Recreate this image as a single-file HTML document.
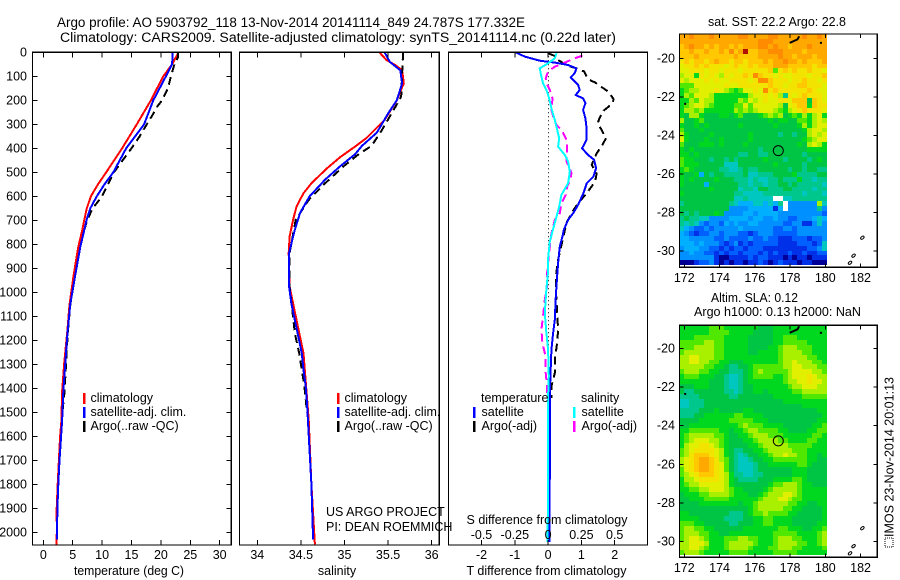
<!DOCTYPE html>
<html lang="en">
<head>
<meta charset="utf-8">
<title>Argo profile 5903792_118</title>
<style>
html,body{margin:0;padding:0;background:#fff;}
svg{display:block;}
text{font-family:"Liberation Sans",sans-serif;font-size:12.5px;fill:#000;}
.title{font-size:13.5px;}
</style>
</head>
<body>
<svg id="chart" xmlns="http://www.w3.org/2000/svg" width="900" height="580" viewBox="0 0 900 580">
  <rect x="0" y="0" width="900" height="580" fill="#fff"/>
  <text class="title" x="57" y="27" textLength="468" lengthAdjust="spacingAndGlyphs">Argo profile: AO 5903792_118 13-Nov-2014 20141114_849 24.787S 177.332E</text>
  <text class="title" x="60" y="42" textLength="556" lengthAdjust="spacingAndGlyphs">Climatology: CARS2009. Satellite-adjusted climatology: synTS_20141114.nc (0.22d later)</text>

  <g id="panelT"></g>
  <g id="panelS"></g>
  <g id="panelD"></g>
  <g id="mapSST"></g>
  <g id="mapSLA"></g>

  <text x="129" y="575" text-anchor="middle" textLength="110" lengthAdjust="spacingAndGlyphs">temperature (deg C)</text>
  <text x="337" y="575" text-anchor="middle">salinity</text>
  <text x="546.5" y="575" text-anchor="middle">T difference from climatology</text>
  <text x="547" y="524" text-anchor="middle">S difference from climatology</text>

  <g>
    <rect x="83" y="393" width="2.5" height="11" fill="#f00"/>
    <text x="90.5" y="402">climatology</text>
    <rect x="83" y="407" width="2.5" height="11" fill="#00f"/>
    <text x="90.5" y="416">satellite-adj. clim.</text>
    <rect x="83" y="421" width="2.5" height="11" fill="#000"/>
    <text x="90.5" y="430">Argo(..raw -QC)</text>
  </g>
  <g>
    <rect x="337" y="393" width="2.5" height="11" fill="#f00"/>
    <text x="344.5" y="402">climatology</text>
    <rect x="337" y="407" width="2.5" height="11" fill="#00f"/>
    <text x="344.5" y="416">satellite-adj. clim.</text>
    <rect x="337" y="421" width="2.5" height="11" fill="#000"/>
    <text x="344.5" y="430">Argo(..raw -QC)</text>
  </g>
  <g>
    <text x="481" y="402">temperature</text>
    <text x="581" y="402">salinity</text>
    <rect x="473" y="407" width="2.5" height="11" fill="#00f"/>
    <text x="481.5" y="416">satellite</text>
    <rect x="473" y="421" width="2.5" height="11" fill="#000"/>
    <text x="481.5" y="430">Argo(-adj)</text>
    <rect x="573" y="407" width="2.5" height="11" fill="#0ff"/>
    <text x="581.5" y="416">satellite</text>
    <rect x="573" y="421" width="2.5" height="11" fill="#f0f"/>
    <text x="581.5" y="430">Argo(-adj)</text>
  </g>

  <text x="326" y="516">US ARGO PROJECT</text>
  <text x="326" y="531">PI: DEAN ROEMMICH</text>

  <text x="708" y="26" textLength="138" lengthAdjust="spacingAndGlyphs">sat. SST: 22.2 Argo: 22.8</text>
  <text x="711" y="302" textLength="87" lengthAdjust="spacingAndGlyphs">Altim. SLA: 0.12</text>
  <text x="694" y="316" textLength="167" lengthAdjust="spacingAndGlyphs">Argo h1000: 0.13 h2000: NaN</text>

  <rect x="885" y="538" width="8" height="9" fill="none" stroke="#000" stroke-width="1" stroke-dasharray="1 1"/>
  <text transform="translate(893.5 537) rotate(-90)" textLength="160" lengthAdjust="spacingAndGlyphs">IMOS 23-Nov-2014 20:01:13</text>
</svg>

<script>
/* ---------- profile depth grids (dbar) and values ---------- */
const climTDepth = [0,50,100,200,300,400,500,550,600,650,700,740,811,932,1052,1173,1294,1415,1535,1600,1700,1800,1900,2000,2050];
const climT = [23.0,21.9,20.4,18.3,15.9,13.4,10.7,9.3,8.1,7.4,6.95,6.63,5.95,5.13,4.45,4.04,3.55,3.2,3.07,2.85,2.65,2.45,2.28,2.3,2.25];
const satTDepth = [0,50,100,200,300,400,500,550,600,650,700,740,811,932,1052,1173,1294,1415,1535,1644,1700,1800,1900,2000,2030];
const satT = [22.0,21.9,20.85,18.7,17.15,14.1,11.9,10.4,9.1,8.0,7.35,6.97,6.29,5.4,4.58,4.1,3.75,3.4,3.2,2.9,2.75,2.55,2.4,2.33,2.33];
const argoTDepth = [0,20,50,100,150,200,225,260,300,350,400,450,500,550,600,650,700,740,811,932,1052,1173,1294,1415,1500];
const argoT = [22.9,22.9,22.3,21.7,21.2,20.2,19.4,18.6,17.6,16.4,15.0,13.5,12.0,11.0,10.0,8.4,7.45,6.97,6.3,5.4,4.6,4.15,3.88,3.6,3.25];

const climSDepth = [0,32,53,74,129,200,282,358,393,437,483,546,587,643,698,768,837,976,1115,1254,1392,1531,1800,2050];
const climS = [35.40,35.48,35.58,35.66,35.68,35.60,35.46,35.25,35.12,34.95,34.80,34.62,34.53,34.45,34.41,34.37,34.36,34.37,34.45,34.53,34.56,34.59,34.62,34.66];
const satSDepth = [0,40,75,130,200,255,335,390,425,475,530,600,670,740,837,976,1045,1115,1184,1254,1323,1392,1462,1531,1800,2030];
const satS = [35.46,35.52,35.64,35.66,35.60,35.50,35.37,35.20,35.12,34.95,34.78,34.60,34.49,34.43,34.363,34.365,34.39,34.43,34.47,34.51,34.53,34.555,34.57,34.58,34.62,34.64];
const argoSDepth = [0,18,90,185,255,335,390,425,475,545,615,698,837,976,1070,1170,1254,1323,1392,1500];
const argoS = [35.67,35.67,35.66,35.65,35.54,35.41,35.31,35.16,34.99,34.78,34.59,34.44,34.37,34.37,34.40,34.43,34.48,34.51,34.54,34.57];

const diffDepthTSat = [0,18,35,43,53,67,87,104,136,157,178,192,212,240,275,310,365,400,428,448,483,518,546,587,636,671,698,740,768,809,865,934,1018,1115,1170,1240,1351,1434,1754,1990,2040];
const diffTSat = [-0.97,-0.70,-0.25,0.20,0.60,0.85,0.80,0.68,0.90,0.95,0.83,1.05,1.12,1.05,1.12,1.15,1.15,1.02,1.20,1.38,1.44,1.36,1.16,1.06,0.90,0.75,0.60,0.47,0.43,0.35,0.31,0.27,0.23,0.20,0.15,0.10,0.07,0.05,0.05,0.04,0.04];
const diffDepthTArgo = [4,18,32,57,67,80,112,126,150,164,196,215,243,275,296,324,358,386,421,469,504,539,587,629,671,698,712,865,934,983,1156,1212,1281,1337,1392,1440];
const diffTArgo = [0,0.25,0.30,0.60,0.87,1.08,1.20,1.41,1.66,1.81,1.97,1.92,1.67,1.54,1.49,1.61,1.74,1.63,1.46,1.31,1.46,1.41,1.16,0.90,0.70,0.60,0.55,0.30,0.23,0.23,0.30,0.27,0.20,0.20,0.10,0.10];
const diffDepthSSat = [4,25,46,67,101,129,157,192,233,282,323,358,393,428,455,497,546,594,643,685,735,789,859,914,985,1087,1170,1240,1350,1434,1643,1990,2040];
const diffSSat = [0.063,0.05,0,-0.063,-0.05,-0.038,-0.013,0.008,0.025,0.05,0.068,0.083,0.075,0.125,0.15,0.163,0.15,0.10,0.083,0.063,0.038,0.013,0,0,-0.013,-0.025,-0.013,0,0.005,0,0,-0.003,-0.003];
const diffDepthSArgo = [14,25,43,60,80,108,129,157,192,240,268,303,323,358,392,420,455,483,504,532,560,594,629,671,698,754,837,920,976,1031,1101,1156,1212,1268,1337,1392,1440];
const diffSArgo = [0.258,0.20,0.125,0.05,0,-0.018,-0.013,0.013,0.033,0.025,0.038,0.063,0.10,0.133,0.143,0.143,0.138,0.163,0.175,0.168,0.143,0.133,0.10,0.088,0.05,0.025,0.0075,-0.0075,-0.0075,-0.025,-0.038,-0.05,-0.043,-0.018,-0.018,-0.0075,-0.0075];

/* ---------- tick labels ---------- */
const depthTicks = [0,100,200,300,400,500,600,700,800,900,1000,1100,1200,1300,1400,1500,1600,1700,1800,1900,2000];
const tempTicks = [0,5,10,15,20,25,30];
const salTicks = [34,34.5,35,35.5,36];
const tDiffTicks = [-2,-1,0,1,2];
const sDiffTicks = [-0.5,-0.25,0,0.25,0.5];
const lonTicks = [172,174,176,178,180,182];
const latTicksSST = [-20,-22,-24,-26,-28,-30];
const latTicksSLA = [-20,-22,-24,-26,-28,-30];

/* ---------- float position and coast fragments ---------- */
const floatLon = 177.332;
const floatLat = -24.787;
const coastNorthLon = [177.98,178.2,178.42,178.52];
const coastNorthLat = [-19.2,-19.11,-19.02,-18.86];
const coastDotLon = [179.75,172.05];
const coastDotLat = [-19.2,-22.36];
const coastIslandLon = [182.1,181.6,181.4];
const coastIslandLat = [-29.3,-30.23,-30.6];

/* ---------- SST map colour-level grid (null = no data) ---------- */
const sstLevels = [
[14,14,15,14,14,14,15,14,14,14,14,14,15,15,14,14,14,14,15,15,14,14,14,14,14,15,14,14,15,14],
[14,14,14,14,14,14,14,14,14,14,14,14,14,14,14,14,15,15,15,14,14,14,14,14,14,14,14,14,14,14],
[13,14,15,14,14,13,14,13,14,14,13,14,13,14,14,14,15,15,14,15,14,14,13,14,14,14,15,14,14,14],
[13,13,14,13,13,14,13,13,14,13,15,13,14,16,13,13,14,14,15,15,15,14,14,14,14,13,14,14,14,14],
[13,13,13,14,13,13,13,13,13,13,13,14,13,13,13,13,14,14,14,14,15,14,14,13,14,14,14,13,14,14],
[12,13,12,13,13,12,13,14,13,13,12,13,13,12,13,13,13,14,13,14,14,15,14,14,13,14,13,13,13,14],
[11,12,12,13,12,13,12,12,12,11,12,13,12,12,13,12,13,13,13,14,14,14,13,13,13,13,13,12,13,13],
[11,11,12,12,12,11,12,12,11,12,12,12,11,12,12,12,12,12,13,9,12,13,12,13,12,12,13,12,12,11],
[10,11,11,8,12,11,12,11,10,12,11,12,12,13,12,15,13,12,12,11,12,11,11,12,12,12,11,12,12,13],
[11,10,11,11,11,12,11,12,11,11,12,12,12,12,11,12,15,15,13,12,12,12,11,12,12,13,12,12,11,12],
[9,9,9,11,11,11,11,11,11,12,11,11,12,12,12,12,12,12,13,12,12,11,12,12,13,13,12,12,12,11],
[8,9,10,10,11,11,11,12,11,10,9,8,9,11,11,12,11,15,12,13,12,12,12,12,12,12,13,12,11,11],
[8,10,9,11,11,11,10,8,8,8,8,8,8,8,10,11,11,12,11,12,10,6,12,11,12,13,12,12,12,11],
[8,8,10,9,11,10,10,8,8,8,8,8,10,9,11,10,11,12,11,11,12,12,11,13,13,13,7,13,12,11],
[8,9,10,11,11,10,9,8,8,8,8,9,9,11,9,11,11,11,11,11,10,7,11,12,13,13,8,13,12,12],
[8,10,10,9,10,8,8,8,8,8,8,10,9,10,9,10,11,11,11,10,9,8,10,11,12,13,12,12,12,11],
[8,7,10,10,8,7,7,7,8,8,7,8,9,7,7,7,8,9,10,9,10,7,8,9,8,10,8,10,11,8],
[10,7,7,8,9,7,7,7,7,7,7,7,7,7,7,7,7,7,8,7,8,8,7,7,9,9,8,10,11,10],
[8,7,7,8,7,8,7,7,7,7,7,7,8,7,7,7,7,7,7,8,7,7,7,7,8,10,8,10,11,11],
[9,7,7,7,8,7,7,7,7,7,7,7,7,7,7,7,7,7,7,7,7,7,7,7,7,8,10,11,11,10],
[10,8,7,7,7,7,8,7,7,7,7,7,7,7,8,7,7,7,7,7,6,7,7,6,7,7,10,11,10,11],
[11,8,7,7,7,8,7,7,8,7,7,7,7,7,8,7,7,7,7,7,7,7,7,7,7,8,9,10,11,11],
[9,7,7,7,8,8,8,7,8,7,7,7,7,8,7,7,7,7,7,7,7,7,7,7,8,7,10,11,10,8],
[8,7,8,7,7,7,7,7,7,7,7,7,7,7,7,7,6,7,7,7,7,7,7,7,7,7,8,8,8,8],
[8,8,7,8,7,7,7,7,7,7,7,7,6,6,7,7,6,6,7,7,7,7,7,7,7,6,7,7,7,7],
[9,8,8,7,7,7,6,7,7,6,7,6,7,7,7,7,7,8,7,7,7,6,7,7,7,7,6,7,8,7],
[9,8,8,8,7,7,7,7,7,5,5,5,7,7,7,7,7,7,7,8,7,7,7,7,7,6,7,7,7,7],
[8,9,8,7,7,7,7,7,6,6,5,5,6,7,6,6,7,7,7,7,7,7,6,7,7,6,7,7,6,6],
[8,7,7,8,4,7,6,7,7,6,6,6,6,7,5,5,6,6,6,7,7,7,7,8,6,6,6,6,7,7],
[8,7,8,7,7,7,7,8,7,7,7,6,6,6,5,6,5,5,6,6,7,6,6,6,8,6,6,5,6,6],
[8,7,7,7,7,4,7,7,7,7,7,7,6,6,5,6,6,5,6,6,7,7,6,7,6,6,6,6,6,5],
[7,7,7,7,7,7,8,7,7,7,7,7,5,6,6,5,7,7,6,6,6,7,7,6,6,6,6,5,6,6],
[8,7,7,7,7,7,7,7,7,7,7,6,6,5,5,5,5,6,6,6,6,6,6,6,6,5,6,6,6,5],
[7,7,7,7,7,7,7,7,7,7,7,5,5,6,5,5,5,5,5,null,null,5,5,6,6,6,6,6,6,6],
[6,7,7,7,7,7,7,7,7,7,6,5,4,4,4,5,5,4,5,4,6,null,3,3,3,3,3,3,10,5],
[7,7,7,7,7,7,7,7,7,7,3,3,3,3,4,4,4,4,4,1,4,null,3,3,3,3,3,3,6,3],
[7,6,7,6,7,7,7,8,7,3,3,3,3,4,4,3,4,4,4,4,3,3,3,3,3,3,3,3,3,2],
[6,7,6,6,5,5,3,3,3,3,4,4,4,4,3,4,4,3,3,4,3,3,2,2,3,3,3,4,5,4],
[6,5,6,5,3,2,3,3,2,4,3,4,3,3,4,4,3,3,3,3,3,2,2,3,3,1,1,3,5,3],
[5,4,3,2,2,3,2,3,3,3,3,3,4,3,3,3,3,3,3,2,2,3,3,2,3,3,3,3,3,3],
[4,3,2,1,2,2,3,3,2,3,3,3,2,2,1,2,3,3,3,2,2,2,2,2,3,3,3,3,3,3],
[4,4,3,3,3,3,3,2,2,3,2,2,2,2,3,2,2,3,2,2,1,1,1,2,2,2,1,2,2,3],
[4,4,4,3,4,3,3,3,2,1,2,3,1,2,1,2,2,2,2,2,1,1,1,1,2,2,2,1,2,5],
[3,4,4,4,3,3,2,2,1,2,1,2,2,1,2,2,2,1,1,1,1,1,1,1,1,1,2,2,3,5],
[3,3,4,3,3,2,2,1,2,1,2,2,1,2,2,2,1,2,1,2,1,1,2,1,1,2,1,1,2,2],
[3,3,3,3,3,3,3,1,0,0,1,1,1,1,2,1,2,2,1,1,1,0,1,0,1,1,0,1,1,1],
[0,0,0,1,2,2,3,1,0,1,0,1,1,0,1,1,2,1,0,1,2,1,1,1,0,1,1,0,0,0]
];

/* ---------- SLA map colour-level grid ---------- */
const slaLevels = [
[8,8,8,8,8,8,9,9,9,8,8,8,8,8,8,8,7,7,7,8,8,8,8,8,8,8,8,8,8,8],
[8,8,8,8,8,8,9,9,9,9,8,8,8,8,8,7,7,7,7,8,8,8,8,8,8,8,8,8,8,8],
[8,8,8,9,9,9,9,9,9,8,8,8,8,8,7,7,7,7,7,8,8,9,9,9,8,8,8,8,8,8],
[9,9,9,9,9,10,10,9,9,8,8,8,8,8,7,7,7,7,7,8,8,9,9,9,9,9,8,8,8,8],
[9,9,9,10,10,10,10,9,9,8,8,8,8,8,7,7,7,7,8,8,9,10,10,10,9,9,9,8,8,8],
[9,10,10,10,10,10,10,9,9,8,8,8,8,8,7,7,8,8,8,8,9,10,10,10,10,9,9,8,8,8],
[10,10,11,11,10,10,10,9,9,8,8,8,8,8,8,8,8,8,8,8,9,10,10,10,10,10,9,9,8,8],
[10,10,11,11,10,10,9,9,8,8,7,7,7,8,8,8,8,8,8,8,9,10,10,11,10,10,10,9,9,8],
[10,10,10,10,10,9,9,8,8,7,6,6,7,7,8,9,9,9,9,9,9,10,10,11,11,10,10,10,9,9],
[9,10,10,10,9,9,8,8,7,7,6,6,6,7,8,9,10,9,9,9,9,9,10,11,11,11,11,10,10,9],
[8,9,9,9,8,8,8,7,7,6,5,5,6,7,8,9,9,9,9,8,8,9,10,11,11,11,12,11,10,10],
[8,8,8,8,8,8,7,7,7,6,5,5,6,7,8,8,8,8,8,8,8,9,10,10,11,11,12,11,11,10],
[7,7,7,8,8,8,7,7,7,6,5,5,6,7,7,8,8,8,8,8,8,8,9,10,10,11,11,11,10,10],
[7,6,6,7,7,7,7,7,7,6,6,5,6,7,7,8,8,7,8,8,8,8,8,9,9,10,10,10,10,10],
[6,6,6,6,7,7,7,7,7,7,6,6,7,7,7,7,7,7,7,8,8,8,8,8,8,9,9,9,9,9],
[5,5,6,6,6,7,7,7,7,7,7,7,7,7,7,7,7,7,7,7,7,8,8,8,8,8,8,8,8,8],
[5,5,6,6,6,7,7,7,7,7,7,7,7,7,7,7,7,7,7,7,7,7,7,7,7,8,8,8,8,8],
[6,6,6,6,7,7,7,8,7,7,7,7,7,8,8,7,7,7,7,7,7,7,7,7,7,7,7,7,8,8],
[6,6,6,7,7,8,8,8,8,8,8,9,9,8,8,8,8,7,7,7,7,7,7,7,7,7,7,7,7,8],
[7,7,7,7,8,8,8,8,8,8,9,9,9,9,9,8,8,8,7,7,7,7,7,7,7,7,7,7,8,8],
[7,7,8,8,8,8,8,8,8,8,8,8,9,10,9,9,9,8,8,8,8,7,7,7,7,7,7,8,8,9],
[8,8,9,9,9,9,9,9,8,8,7,8,8,9,10,10,9,9,9,9,8,8,7,7,7,7,8,8,9,9],
[8,9,10,10,10,10,10,9,9,8,7,7,8,8,9,10,10,10,9,9,9,8,8,8,8,8,8,9,9,8],
[8,9,10,11,11,11,10,10,9,8,7,7,7,8,8,9,10,10,10,10,9,9,8,8,8,8,9,9,8,8],
[8,10,11,11,12,12,11,10,9,8,7,7,7,7,8,8,9,10,10,10,10,10,9,9,9,9,9,8,8,8],
[9,10,11,12,12,12,12,11,10,8,7,6,6,7,7,8,8,9,10,10,10,10,10,9,9,9,8,8,8,8],
[9,10,12,13,13,13,12,11,10,8,7,6,5,6,7,7,8,8,9,10,10,11,10,10,9,9,8,8,7,8],
[10,11,12,13,14,14,13,12,10,9,7,6,5,5,6,7,7,8,8,9,9,9,9,9,9,9,8,8,7,7],
[10,11,12,13,14,14,13,12,11,9,7,6,5,5,5,6,7,7,8,8,8,8,8,8,9,9,8,7,7,7],
[9,11,12,13,14,14,13,12,11,9,7,6,5,5,5,6,7,7,7,7,7,7,7,8,8,8,7,7,7,7],
[9,10,11,12,13,13,13,12,11,10,8,6,6,5,5,6,6,7,7,7,7,7,7,8,8,8,7,7,7,7],
[8,10,10,11,12,12,12,12,11,10,8,7,6,6,6,6,7,7,7,8,8,8,8,9,9,8,7,7,7,7],
[8,9,10,10,11,11,11,11,11,10,8,7,7,7,7,7,7,7,8,9,9,10,10,10,9,8,8,7,7,7],
[8,8,9,9,10,10,11,11,11,10,9,8,8,7,7,7,7,8,9,10,10,10,10,10,9,8,8,8,8,8],
[7,8,8,8,9,9,10,10,10,10,9,8,8,8,7,7,8,9,10,10,10,11,11,10,9,8,8,8,8,8],
[7,7,8,8,8,9,9,9,9,9,8,8,8,8,8,8,9,10,10,10,11,11,10,9,9,8,8,8,8,8],
[7,7,7,7,8,8,8,8,8,8,8,8,7,8,8,9,10,10,10,10,10,10,9,9,8,8,7,7,8,8],
[7,7,7,7,7,7,7,7,7,7,7,7,7,7,8,9,10,10,10,10,10,9,9,8,8,7,7,7,7,8],
[8,8,7,7,7,7,7,7,7,7,6,6,6,7,8,9,9,10,9,9,9,9,8,8,7,7,7,7,7,8],
[8,8,8,8,7,7,7,7,7,6,6,6,6,7,7,8,8,9,9,8,8,8,8,7,7,7,7,7,7,8],
[9,9,9,8,8,7,7,7,7,7,6,6,7,7,7,8,8,9,9,8,8,8,8,7,7,7,7,7,8,8],
[9,10,10,9,9,8,8,7,7,7,7,7,7,8,8,8,8,8,8,8,9,9,8,8,8,7,7,8,8,9],
[9,10,10,10,9,9,8,8,7,7,8,8,8,8,8,8,8,8,8,9,9,9,9,9,8,8,8,8,9,10],
[9,10,11,11,10,9,8,8,8,9,9,9,10,10,9,9,8,8,8,9,10,10,10,9,9,8,8,8,9,10],
[10,10,11,11,11,10,8,8,8,9,10,10,10,10,10,9,8,8,8,9,10,10,10,10,9,9,8,8,9,10],
[10,10,11,11,10,9,8,8,8,9,10,10,10,10,9,8,8,8,9,9,10,10,10,9,9,8,8,8,8,9],
[9,10,10,10,9,8,8,8,8,8,9,9,9,9,8,8,8,8,8,9,9,9,9,9,8,8,8,8,8,8]
];

const levelColors = ['#000098','#0030e8','#0060ff','#0090ff','#00b0ff','#00c8c0','#00c88c','#00c444','#00d820','#50e800','#a8f000','#e0f000','#f2e400','#ffc800','#ffa800','#ff8c00','#b01000'];

/* ---------- helpers ---------- */
const NS = 'http://www.w3.org/2000/svg';
function mk(tag, attrs, parent) {
  const e = document.createElementNS(NS, tag);
  for (const k in attrs) e.setAttribute(k, attrs[k]);
  parent.appendChild(e);
  return e;
}
function linear(d0, r0, d1, r1) {
  return v => r0 + (v - d0) * (r1 - r0) / (d1 - d0);
}
const depthY = linear(0, 52.3, 2000, 532.3);

function frame(parent, x, y, w, h) {
  const el = mk('rect', {x:x, y:y, width:w, height:h, fill:'none', stroke:'#000', 'stroke-width':1.4, 'shape-rendering':'crispEdges'}, parent);
  
  
}
function tick(parent, x1, y1, x2, y2) {
  const el = mk('line', {x1:x1, y1:y1, x2:x2, y2:y2, stroke:'#000', 'stroke-width':1, 'shape-rendering':'crispEdges'}, parent);
  
  
}
function label(parent, x, y, str, anchor) {
  const el = mk('text', {x:x, y:y, 'text-anchor':anchor}, parent);
  el.textContent = str;
  
  
}
function profile(parent, depths, values, xs, color, dash, name, width) {
  const pts = depths.map((d, i) => xs(values[i]).toFixed(1) + ',' + depthY(d).toFixed(1)).join(' ');
  const attrs = {points:pts, fill:'none', stroke:color, 'stroke-width':width || 2, 'stroke-linejoin':'round', 'shape-rendering':'crispEdges'};
  if (dash) attrs['stroke-dasharray'] = dash;
  const el = mk('polyline', attrs, parent);
  
  
}

/* ---------- profile panels ---------- */
const LEFT_T = 32.5, RIGHT_T = 231.3, LEFT_S = 239.5, RIGHT_S = 439.3, LEFT_D = 448.5, RIGHT_D = 647.5;
const TOP = 52.3, BOTTOM = 545;
const tempX = linear(0, 43.3, 30, 219.7);
const salX = linear(34, 257.3, 36, 431.7);
const tDiffX = linear(-2, 481.5, 2, 614.7);
const sDiffX = linear(-0.5, 481.5, 0.5, 614.7);

const pT = document.getElementById('panelT');
const pS = document.getElementById('panelS');
const pD = document.getElementById('panelD');

profile(pT, climTDepth, climT, tempX, '#f00', null, 'temperature-climatology-line');
profile(pT, argoTDepth, argoT, tempX, '#000', '8 5', 'temperature-argo-line');
profile(pT, satTDepth, satT, tempX, '#00f', null, 'temperature-satellite-line');
frame(pT, LEFT_T, TOP, RIGHT_T - LEFT_T, BOTTOM - TOP);
depthTicks.forEach(d => {
  tick(pT, LEFT_T, depthY(d), LEFT_T + 5, depthY(d));
  tick(pT, RIGHT_T, depthY(d), RIGHT_T - 5, depthY(d));
  label(pT, 27, depthY(d) + 4, String(d), 'end');
});
tempTicks.forEach(t => {
  tick(pT, tempX(t), TOP, tempX(t), TOP + 5);
  tick(pT, tempX(t), BOTTOM, tempX(t), BOTTOM - 5);
  label(pT, tempX(t), 559, String(t), 'middle');
});

profile(pS, climSDepth, climS, salX, '#f00', null, 'salinity-climatology-line');
profile(pS, argoSDepth, argoS, salX, '#000', '8 5', 'salinity-argo-line');
profile(pS, satSDepth, satS, salX, '#00f', null, 'salinity-satellite-line');
frame(pS, LEFT_S, TOP, RIGHT_S - LEFT_S, BOTTOM - TOP);
salTicks.forEach(s => {
  tick(pS, salX(s), TOP, salX(s), TOP + 5);
  tick(pS, salX(s), BOTTOM, salX(s), BOTTOM - 5);
  label(pS, salX(s), 559, String(s), 'middle');
});

const zeroLine = mk('line', {x1:548.5, y1:TOP, x2:548.5, y2:395, stroke:'#000', 'stroke-width':1, 'stroke-dasharray':'1 3'}, pD);


profile(pD, diffDepthTArgo, diffTArgo, tDiffX, '#000', '8 5', 't-difference-argo-line');
profile(pD, diffDepthSArgo, diffSArgo, sDiffX, '#f0f', '8 5', 's-difference-argo-line');
profile(pD, diffDepthTSat, diffTSat, tDiffX, '#00f', null, 't-difference-satellite-line');
profile(pD, diffDepthSSat, diffSSat, sDiffX, '#0ff', null, 's-difference-satellite-line');
frame(pD, LEFT_D, TOP, RIGHT_D - LEFT_D, BOTTOM - TOP);
tDiffTicks.forEach(t => {
  tick(pD, tDiffX(t), TOP, tDiffX(t), TOP + 5);
  tick(pD, tDiffX(t), BOTTOM, tDiffX(t), BOTTOM - 5);
  label(pD, tDiffX(t), 559, String(t), 'middle');
});
sDiffTicks.forEach(s => {
  label(pD, sDiffX(s), 539, String(s), 'middle');
});

/* ---------- maps ---------- */
function drawMap(group, grid, top, bottom, latY, latTicks, xLabelY, cellName) {
  const mapLeft = 679.5, mapRight = 826.8;
  const lonX = linear(172, 684.3, 182, 860.6);
  const nRows = grid.length;
  grid.forEach((row, r) => {
    const y0 = Math.round(top + (bottom - top) * r / nRows);
    const y1 = Math.round(top + (bottom - top) * (r + 1) / nRows);
    row.forEach((v, c) => {
      if (v === null) return;
      const x0 = Math.round(mapLeft + (mapRight - mapLeft) * c / row.length);
      const x1 = Math.round(mapLeft + (mapRight - mapLeft) * (c + 1) / row.length);
      const cell = mk('rect', {x:x0, y:y0, width:x1 - x0, height:y1 - y0, fill:levelColors[v], 'shape-rendering':'crispEdges'}, group);
      
      
    });
  });
  const coast = mk('polyline', {points:coastNorthLon.map((lo, i) => lonX(lo).toFixed(1) + ',' + latY(coastNorthLat[i]).toFixed(1)).join(' '), fill:'none', stroke:'#000', 'stroke-width':2}, group);
  
  
  coastDotLon.forEach((lo, i) => {
    const dot = mk('rect', {x:lonX(lo) - 1, y:latY(coastDotLat[i]) - 1, width:2, height:2, fill:'#000'}, group);
    
    
  });
  coastIslandLon.forEach((lo, i) => {
    const isl = mk('ellipse', {cx:lonX(lo), cy:latY(coastIslandLat[i]), rx:2, ry:1.2, fill:'none', stroke:'#000', 'stroke-width':1, transform:'rotate(-40 ' + lonX(lo) + ' ' + latY(coastIslandLat[i]) + ')'}, group);
    
    
  });
  const marker = mk('circle', {cx:lonX(floatLon), cy:latY(floatLat), r:5, fill:'none', stroke:'#000', 'stroke-width':1}, group);
  
  
  frame(group, 679.5, top, 197.8, bottom + 2 - top);
  lonTicks.forEach(lo => {
    tick(group, lonX(lo), top, lonX(lo), top + 4);
    tick(group, lonX(lo), bottom + 2, lonX(lo), bottom - 2);
    label(group, lonX(lo), xLabelY, String(lo), 'middle');
  });
  latTicks.forEach(la => {
    tick(group, 679.5, latY(la), 683.5, latY(la));
    tick(group, 877.3, latY(la), 873.3, latY(la));
    label(group, 675, latY(la) + 4, String(la), 'end');
  });
}
drawMap(document.getElementById('mapSST'), sstLevels, 34, 265.3, linear(-20, 58.3, -30, 251.2), latTicksSST, 282, 'sst-cell');
drawMap(document.getElementById('mapSLA'), slaLevels, 325.3, 555.3, linear(-20, 348.3, -30, 541.7), latTicksSLA, 572, 'sla-cell');
</script>
</body>
</html>
